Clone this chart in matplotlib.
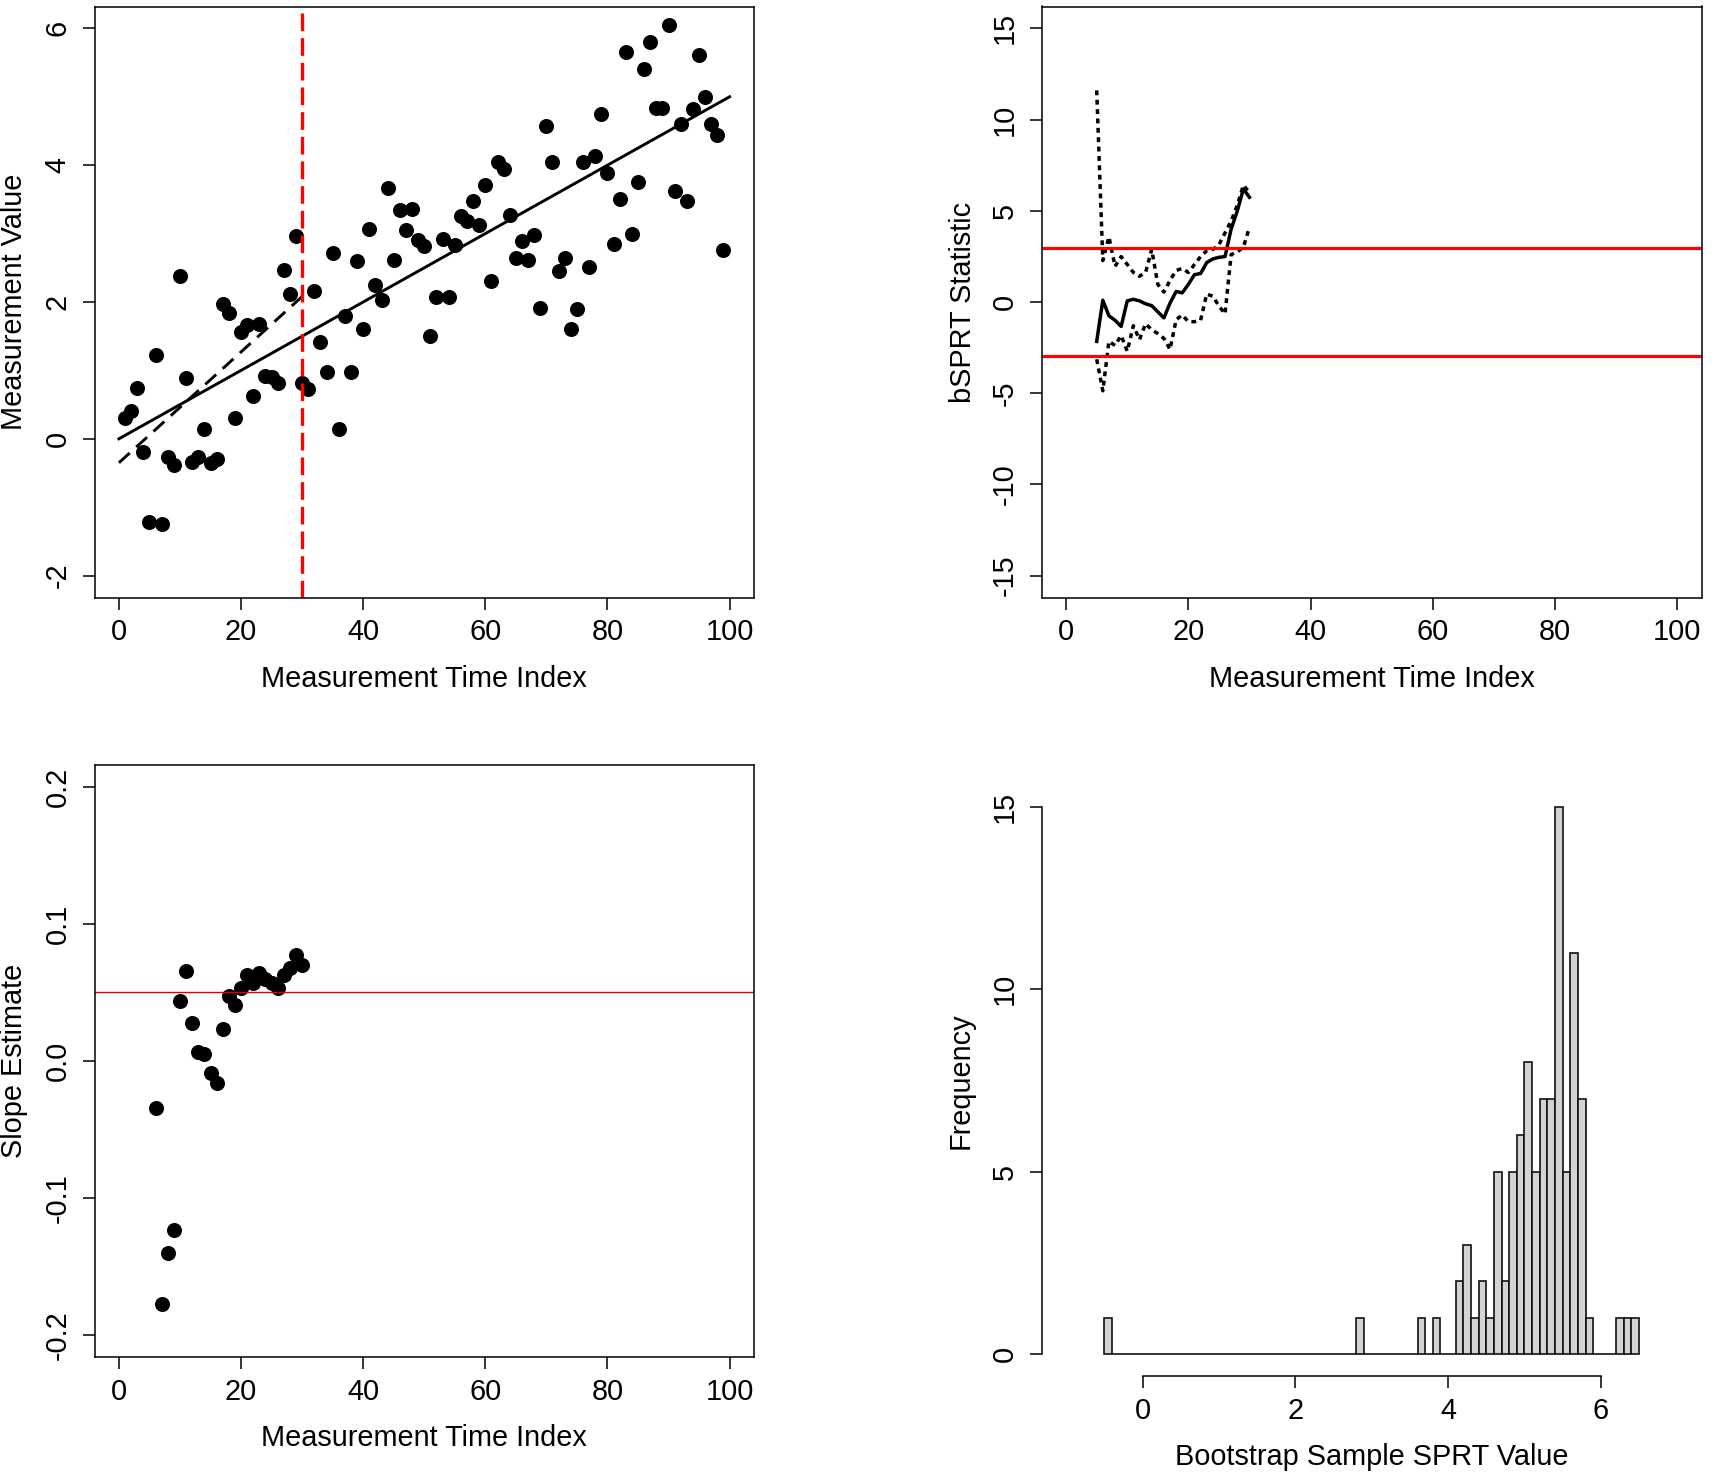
import numpy as np
import matplotlib.pyplot as plt

plt.rcParams['font.family'] = ['Liberation Sans', 'DejaVu Sans']
plt.rcParams['font.size'] = 20.8
plt.rcParams['axes.unicode_minus'] = False

# ============================================================
# DATA
# ============================================================

# panel 1: measurements vs time index
meas_t = np.arange(1, 100)
meas_y = [0.31, 0.40, 0.75, -0.20, -1.21, 1.23, -1.24, -0.26, -0.39, 2.38,
          0.89, -0.34, -0.27, 0.14, -0.36, -0.29, 1.97, 1.84, 0.31, 1.56,
          1.66, 0.62, 1.68, 0.92, 0.90, 0.82, 2.47, 2.12, 2.96, 0.81,
          0.73, 2.16, 1.41, 0.97, 2.71, 0.14, 1.80, 0.97, 2.60, 1.61,
          3.06, 2.25, 2.03, 3.67, 2.61, 3.34, 3.05, 3.36, 2.91, 2.82,
          1.51, 2.07, 2.92, 2.08, 2.83, 3.25, 3.19, 3.48, 3.13, 3.71,
          2.30, 4.05, 3.94, 3.27, 2.64, 2.89, 2.61, 2.98, 1.91, 4.57,
          4.05, 2.45, 2.65, 1.61, 1.90, 4.05, 2.51, 4.14, 4.75, 3.89,
          2.85, 3.50, 5.65, 2.99, 3.76, 5.41, 5.80, 4.83, 4.83, 6.05,
          3.63, 4.60, 3.47, 4.82, 5.61, 5.00, 4.60, 4.44, 2.76]
true_intercept, true_slope = 0.0, 0.05
fit_intercept, fit_slope = -0.35, 0.081
fit_end = 30
stop_time = 30

# panel 2: bSPRT statistic with bootstrap band
sprt_t = np.arange(5, 31)
sprt_mid = [-2.16, 0.10, -0.76, -1.00, -1.34, 0.06, 0.15, 0.06, -0.10, -0.20,
            -0.54, -0.87, -0.06, 0.58, 0.50, 0.97, 1.50, 1.56, 2.16, 2.36,
            2.45, 2.49, 4.00, 4.98, 6.20, 5.74]
sprt_hi = [11.6, 2.27, 3.57, 1.95, 2.49, 2.06, 1.62, 1.41, 1.62, 2.88,
           0.97, 0.54, 1.19, 1.73, 1.84, 1.62, 2.06, 2.49, 2.81, 2.88,
           3.14, 3.79, 4.44, 5.30, 6.40, 6.00]
sprt_lo = [-3.14, -4.87, -2.16, -2.38, -1.84, -2.70, -1.30, -2.06, -1.19, -1.52,
           -1.73, -2.00, -2.60, -0.97, -0.71, -1.08, -1.08, -1.00, 0.43, 0.32,
           -0.22, -0.65, 2.60, 2.75, 3.00, 4.10]
sprt_bound = 2.944

# panel 3: slope estimates
slope_t = np.arange(6, 31)
slope_est = [-0.0345, -0.177, -0.140, -0.123, 0.044, 0.0657, 0.028, 0.0068, 0.0049,
             -0.0085, -0.0163, 0.023, 0.0474, 0.0406, 0.053, 0.0628, 0.057, 0.064,
             0.060, 0.057, 0.053, 0.0628, 0.0676, 0.0774, 0.070]
true_slope_line = 0.05

# panel 4: histogram of bootstrap SPRT values, bins of 0.1 from -0.5 to 6.5
hist_edges = np.round(np.arange(-0.5, 6.5, 0.1), 1)
hist_counts = [1, 0, 0, 0, 0, 0, 0, 0, 0, 0,     # -0.5 .. 0.5
               0, 0, 0, 0, 0, 0, 0, 0, 0, 0,     # 0.5 .. 1.5
               0, 0, 0, 0, 0, 0, 0, 0, 0, 0,     # 1.5 .. 2.5
               0, 0, 0, 1, 0, 0, 0, 0, 0, 0,     # 2.5 .. 3.5
               0, 1, 0, 1, 0, 0, 2, 3, 1, 2,     # 3.5 .. 4.5
               1, 5, 2, 5, 6, 8, 5, 7, 7, 15,    # 4.5 .. 5.5
               5, 11, 7, 1, 0, 0, 0, 1, 1, 1]    # 5.5 .. 6.5

# ============================================================
# FIGURE
# ============================================================

W, H = 1716, 1476
fig = plt.figure(figsize=(W / 100, H / 100), dpi=100)


def rect(left, top, right, bottom):
    return [left / W, 1 - bottom / H, (right - left) / W, (bottom - top) / H]


ax1 = fig.add_axes(rect(94.5, 6.5, 754, 597.5))
ax2 = fig.add_axes(rect(1041.7, 6.5, 1701.7, 597.5))
ax3 = fig.add_axes(rect(94.5, 765, 754, 1357))
ax4 = fig.add_axes(rect(1041.7, 785, 1701.7, 1376))


def r_style(ax, ylab_x):
    for s in ax.spines.values():
        s.set_linewidth(1.1)
    ax.tick_params(direction='out', length=8.4, width=1.1, colors='black', labelsize=20.8)
    ax.tick_params(axis='x', pad=6.5)
    ax.tick_params(axis='y', pad=8.0)
    for lab in ax.get_yticklabels():
        lab.set_rotation(90)
        lab.set_va('center')
    ax.xaxis.set_label_coords(0.5, -67 / 591)
    ax.yaxis.set_label_coords(ylab_x, 0.5)


# --- 1. measurements ---
ax1.plot(meas_t, meas_y, 'o', color='black', markersize=9.8)
xx = np.array([0, 100])
ax1.plot(xx, true_intercept + true_slope * xx, color='black', lw=2.1)
xf = np.array([0, fit_end])
ax1.plot(xf, fit_intercept + fit_slope * xf, color='black', lw=2.1, dashes=(5, 3))
ax1.axvline(stop_time, color='#ff0000', lw=2.4, dashes=(5.3, 2.1))
ax1.set_xlim(-4, 104)
ax1.set_ylim(-2.32, 6.32)
ax1.set_xticks([0, 20, 40, 60, 80, 100])
ax1.set_yticks([-2, 0, 2, 4, 6])
ax1.set_xlabel("Measurement Time Index")
ax1.set_ylabel("Measurement Value", va='baseline')
r_style(ax1, -72 / 659.5)

# --- 2. bSPRT statistic ---
ax2.plot(sprt_t, sprt_mid, color='black', lw=2.5)
ax2.plot(sprt_t, sprt_hi, color='black', lw=2.5, dashes=(1.4, 1.3))
ax2.plot(sprt_t, sprt_lo, color='black', lw=2.5, dashes=(1.4, 1.3))
ax2.axhline(sprt_bound, color='#ff0000', lw=2.3)
ax2.axhline(-sprt_bound, color='#ff0000', lw=2.3)
ax2.set_xlim(-4, 104)
ax2.set_ylim(-16.2, 16.2)
ax2.set_xticks([0, 20, 40, 60, 80, 100])
ax2.set_yticks([-15, -10, -5, 0, 5, 10, 15])
ax2.set_xlabel("Measurement Time Index")
ax2.set_ylabel("bSPRT Statistic", va='baseline')
r_style(ax2, -71 / 660)

# --- 3. slope estimates ---
ax3.plot(slope_t, slope_est, 'o', color='black', markersize=9.8)
ax3.axhline(true_slope_line, color='#e00000', lw=1.0)
ax3.set_xlim(-4, 104)
ax3.set_ylim(-0.216, 0.216)
ax3.set_xticks([0, 20, 40, 60, 80, 100])
ax3.set_yticks([-0.2, -0.1, 0.0, 0.1, 0.2])
ax3.set_yticklabels(["-0.2", "-0.1", "0.0", "0.1", "0.2"])
ax3.set_xlabel("Measurement Time Index")
ax3.set_ylabel("Slope Estimate", va='baseline')
r_style(ax3, -72 / 659.5)

# --- 4. histogram ---
ax4.bar(hist_edges, hist_counts, width=0.1, align='edge',
        color='#d3d3d3', edgecolor='#111111', linewidth=1.2)
ax4.set_xlim(-1.32, 7.32)
ax4.set_ylim(-0.6, 15.6)
ax4.set_xticks([0, 2, 4, 6])
ax4.set_yticks([0, 5, 10, 15])
ax4.spines['top'].set_visible(False)
ax4.spines['right'].set_visible(False)
ax4.spines['bottom'].set_bounds(0, 6)
ax4.spines['left'].set_bounds(0, 15)
ax4.set_xlabel("Bootstrap Sample SPRT Value")
ax4.set_ylabel("Frequency", va='baseline')
r_style(ax4, -73 / 660)

fig.savefig("out.png", dpi=100, facecolor='white')
